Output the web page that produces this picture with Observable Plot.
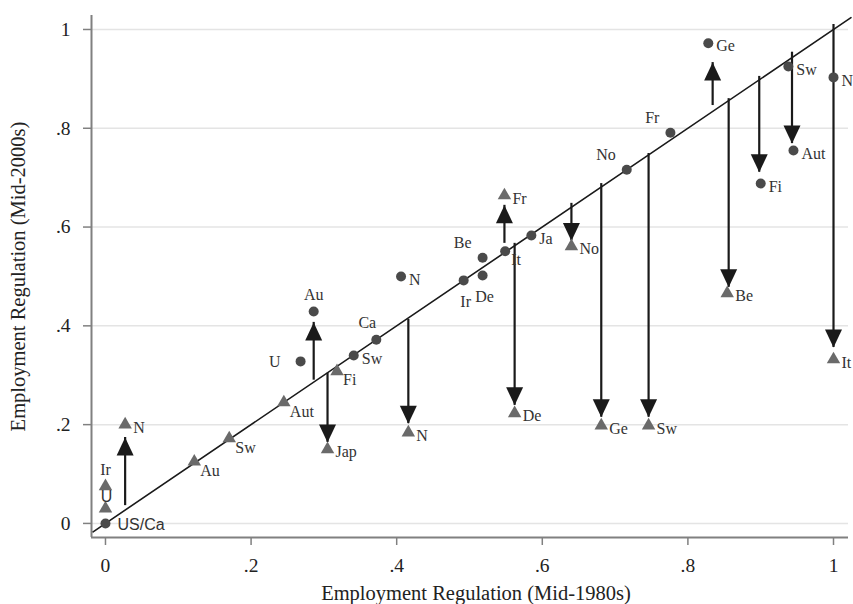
<!DOCTYPE html>
<html>
<head>
<meta charset="utf-8">
<script src="https://cdn.jsdelivr.net/npm/d3@7"></script>
<script src="https://cdn.jsdelivr.net/npm/@observablehq/plot@0.6"></script>
<style>
  html, body { margin: 0; padding: 0; background: #fff; }
  #chart { width: 853px; height: 604px; }
</style>
</head>
<body>
<div id="chart"></div>
<script>
// ---------- data ----------
// Circles
const circleNames = ["US/Ca", "U", "Au", "Sw", "Ca", "N", "Ir", "Be", "De", "It", "Ja", "No", "Fr", "Ge", "Sw", "Aut", "Fi", "N"];
const circleX     = [0.000, 0.268, 0.286, 0.341, 0.372, 0.406, 0.492, 0.518, 0.518, 0.549, 0.585, 0.716, 0.776, 0.828, 0.938, 0.945, 0.900, 1.000];
const circleY     = [0.000, 0.328, 0.429, 0.340, 0.372, 0.500, 0.492, 0.538, 0.502, 0.551, 0.583, 0.716, 0.791, 0.972, 0.925, 0.755, 0.688, 0.903];
const circlePos   = ["rs", "l", "a", "r", "aw", "r", "b", "al", "b", "br", "r", "al", "al", "r", "r", "r", "r", "r"];

// Triangles
const triNames = ["Ir", "U", "N", "Au", "Sw", "Aut", "Fi", "Jap", "N", "Fr", "No", "De", "Ge", "Sw", "Be", "It"];
const triX     = [0.000, 0.000, 0.027, 0.122, 0.170, 0.245, 0.318, 0.305, 0.416, 0.548, 0.640, 0.562, 0.681, 0.746, 0.854, 1.000];
const triY     = [0.075, 0.030, 0.200, 0.125, 0.172, 0.245, 0.308, 0.150, 0.184, 0.664, 0.561, 0.223, 0.198, 0.198, 0.466, 0.332];
const triPos   = ["a", "as", "r", "br", "br", "br", "br", "r", "r", "r", "r", "r", "r", "r", "r", "r"];

// Arrows (x, start on/near diagonal, tip)
const arrowX    = [0.027, 0.286, 0.305, 0.416, 0.548, 0.640, 0.562, 0.681, 0.746, 0.834, 0.856, 0.898, 0.943, 1.000];
const arrowFrom = [0.036, 0.290, 0.304, 0.413, 0.567, 0.648, 0.567, 0.688, 0.749, 0.846, 0.860, 0.905, 0.954, 1.010];
const arrowTo   = [0.174, 0.407, 0.164, 0.202, 0.644, 0.572, 0.239, 0.215, 0.215, 0.933, 0.478, 0.711, 0.769, 0.356];

// Axes
const xTicks = [0, 0.2, 0.4, 0.6, 0.8, 1];
const yTicks = [0, 0.2, 0.4, 0.6, 0.8, 1];
const xDomain = [-0.0192, 1.0206];
const yDomain = [-0.0285, 1.0283];
const diagonal = [-0.017, 1.024];
const xTitle = "Employment Regulation (Mid-1980s)";
const yTitle = "Employment Regulation (Mid-2000s)";

// ---------- build tables ----------
const circles = circleNames.map((name, i) => ({name, x: circleX[i], y: circleY[i], pos: circlePos[i]}));
const tris = triNames.map((name, i) => ({name, x: triX[i], y: triY[i], pos: triPos[i]}));
const arrows = arrowX.map((x, i) => ({x, from: arrowFrom[i], to: arrowTo[i]}));
const labels = [...circles, ...tris];

const fmt = d => d === 0 ? "0" : d === 1 ? "1" : d3.format(".1f")(d).replace(/^0/, "");

const serif = "'Liberation Serif', 'DejaVu Serif', serif";
const sans = "'Liberation Sans', Arial, sans-serif";

const placements = {
  r:  {textAnchor: "start",  dx: 8,   dy: 3,   font: serif},
  br: {textAnchor: "start",  dx: 6,   dy: 9,   font: serif},
  a:  {textAnchor: "middle", dx: 0,   dy: -17, font: serif},
  aw: {textAnchor: "middle", dx: -9,  dy: -17, font: serif},
  al: {textAnchor: "end",    dx: -11, dy: -15, font: serif},
  b:  {textAnchor: "middle", dx: 2,   dy: 21,  font: serif},
  l:  {textAnchor: "end",    dx: -20, dy: 0,   font: serif},
  rs: {textAnchor: "start",  dx: 12,  dy: 1,   font: sans},
  as: {textAnchor: "middle", dx: 1,   dy: -12, font: sans}
};

const headUp = {draw(ctx) { ctx.moveTo(0, 0); ctx.lineTo(-8.5, 18); ctx.lineTo(8.5, 18); ctx.closePath(); }};
const headDown = {draw(ctx) { ctx.moveTo(0, 0); ctx.lineTo(-8.5, -18); ctx.lineTo(8.5, -18); ctx.closePath(); }};

const labelMarks = Object.entries(placements).map(([key, p]) =>
  Plot.text(labels.filter(d => d.pos === key), {
    x: "x", y: "y", text: "name",
    textAnchor: p.textAnchor, dx: p.dx, dy: p.dy,
    fontFamily: p.font, fontSize: 16, fill: "#333"
  })
);

const chart = Plot.plot({
  width: 853,
  height: 604,
  marginLeft: 91,
  marginRight: 5,
  marginTop: 15,
  marginBottom: 67,
  style: {fontFamily: serif, fontSize: "19px", color: "#222", background: "#fff"},
  x: {domain: xDomain, label: null},
  y: {domain: yDomain, label: null},
  marks: [
    Plot.gridY(yTicks, {stroke: "#e4e4e4", strokeOpacity: 1, strokeWidth: 1.5}),
    Plot.axisX(xTicks, {tickFormat: fmt, tickSize: 8, tickPadding: 13, stroke: "#808080", strokeWidth: 1.5, fontSize: 19.5, fill: "#222", label: null}),
    Plot.axisY(yTicks, {tickFormat: fmt, tickSize: 8, tickPadding: 13, stroke: "#808080", strokeWidth: 1.5, fontSize: 19.5, fill: "#222", label: null}),
    Plot.ruleX([xDomain[0]], {y1: yDomain[0], y2: yDomain[1], stroke: "#808080", strokeWidth: 2}),
    Plot.ruleY([yDomain[0]], {x1: xDomain[0], x2: xDomain[1], stroke: "#808080", strokeWidth: 2}),
    Plot.line(diagonal, {x: d => d, y: d => d, stroke: "#1a1a1a", strokeWidth: 1.6}),
    Plot.ruleX(arrows, {x: "x", y1: "from", y2: "to", stroke: "#1a1a1a", strokeWidth: 2.2}),
    Plot.dot(arrows.filter(d => d.to > d.from), {x: "x", y: "to", symbol: headUp, fill: "#1a1a1a", stroke: "none"}),
    Plot.dot(arrows.filter(d => d.to < d.from), {x: "x", y: "to", symbol: headDown, fill: "#1a1a1a", stroke: "none"}),
    Plot.dot(tris, {x: "x", y: "y", symbol: "triangle", r: 5, fill: "#6a6a6a", stroke: "none"}),
    Plot.dot(circles, {x: "x", y: "y", symbol: "circle", r: 5, fill: "#4a4a4a", stroke: "none"}),
    ...labelMarks,
    Plot.text([xTitle], {frameAnchor: "bottom", textAnchor: "middle", lineAnchor: "middle", dx: 6, dy: 56, text: d => d, fontFamily: serif, fontSize: 20.5, fill: "#222"}),
    Plot.text([yTitle], {frameAnchor: "left", textAnchor: "middle", lineAnchor: "middle", dx: -73, rotate: -90, text: d => d, fontFamily: serif, fontSize: 20.5, fill: "#222"})
  ]
});
document.getElementById("chart").append(chart);
</script>
</body>
</html>
